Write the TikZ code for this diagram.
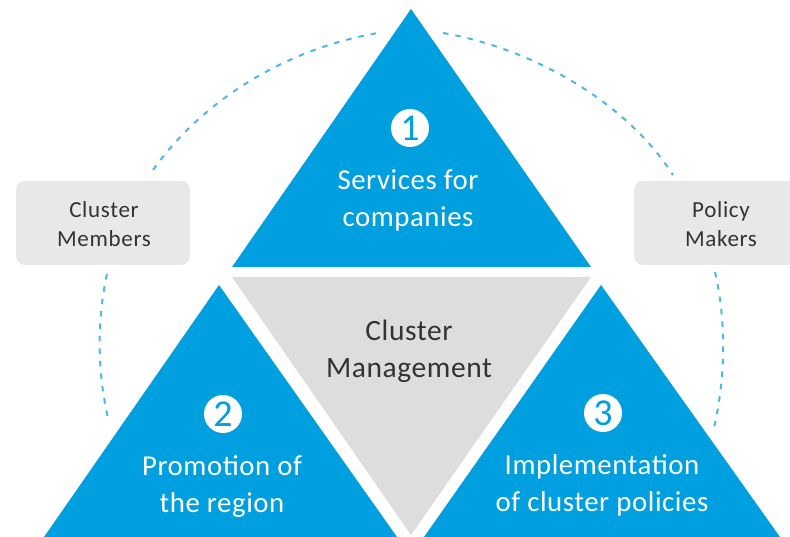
\documentclass[tikz,border=0pt]{standalone}
\usepackage{fontspec}
\setmainfont{Carlito}
\definecolor{tblue}{HTML}{009FE0}
\definecolor{dashblue}{HTML}{4DB8E8}
\definecolor{midgray}{HTML}{DDDDDD}
\definecolor{boxgray}{HTML}{E8E8E8}
\definecolor{inktext}{HTML}{333333}
\tikzset{
  tri/.style={fill=tblue,draw=none},
  midtri/.style={fill=midgray,draw=none},
  sidebox/.style={fill=boxgray,draw=none,rounded corners=9pt},
  sidelabel/.style={text=inktext,align=center,font=\fontsize{23}{29}\selectfont\addfontfeatures{LetterSpace=3}},
  whitelabel/.style={text=white,align=center,font=\fontsize{28.8}{37.5}\selectfont\addfontfeatures{LetterSpace=2}},
  midlabel/.style={text=inktext,align=center,font=\fontsize{29.5}{37.5}\selectfont\addfontfeatures{LetterSpace=2}},
  numdisc/.style={circle,fill=white,draw=none,minimum size=38pt,inner sep=0pt,text=tblue,font=\fontsize{38}{38}\selectfont},
  dashlink/.style={draw=dashblue,line width=2pt,dash pattern=on 5.5pt off 7pt}
}
\begin{document}
\begin{tikzpicture}[x=1pt,y=-1pt]
\useasboundingbox (0,0) rectangle (790,537);
\clip (0,0) rectangle (790,537);
\fill[white] (0,0) rectangle (790,537);
% triangles
\fill[tri] (411,9) -- (591,267) -- (232,267) -- cycle;
\fill[midtri] (232,277) -- (591,277) -- (411,535) -- cycle;
\fill[tri] (219,285) -- (397,537) -- (44,537) -- cycle;
\fill[tri] (601,285) -- (780,537) -- (424,537) -- cycle;
% side boxes
\fill[sidebox] (16,181) rectangle (190,265);
\fill[sidebox] (634,181) rectangle (810,265);
% free ends of the dashed arcs
\coordinate (a1) at (153,170);
\coordinate (a2) at (378,33);
\coordinate (b1) at (443,33);
\coordinate (b2) at (673,175);
\coordinate (c1) at (107,274);
\coordinate (c2) at (108,418);
\coordinate (d1) at (715,272);
\coordinate (d2) at (714,428);
\draw[dashlink] (a1) .. controls (205,97) and (290,48) .. (a2);
\draw[dashlink] (b1) .. controls (530,48) and (625,100) .. (b2);
\draw[dashlink] (c1) .. controls (97,320) and (97,370) .. (c2);
\draw[dashlink] (d1) .. controls (726,320) and (726,375) .. (d2);
% numbers
\node[numdisc] (n1) at (410,128) {1};
\node[numdisc] (n2) at (223,414) {2};
\node[numdisc] (n3) at (603,413) {3};
% labels
\node[whitelabel] (t1) at (408,200.5) {Services for\\companies};
\node[whitelabel] (t2) at (222,486.5) {Promotion of\\the region};
\node[whitelabel] (t3) at (602,485.5) {Implementation\\of cluster policies};
\node[midlabel] (t0) at (409,351.5) {Cluster\\Management};
\node[sidelabel] (s1) at (104,224.5) {Cluster\\Members};
\node[sidelabel] (s2) at (721,224.5) {Policy\\Makers};
\end{tikzpicture}
\end{document}
